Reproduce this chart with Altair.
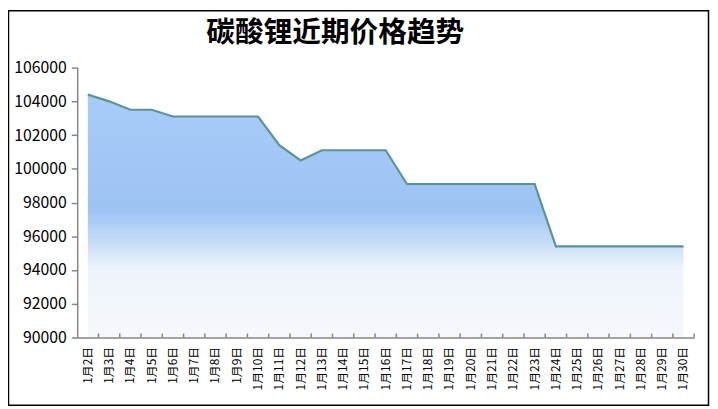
import altair as alt
import pandas as pd

dates = ["1月2日", "1月3日", "1月4日", "1月5日", "1月6日", "1月7日", "1月8日", "1月9日",
         "1月10日", "1月11日", "1月12日", "1月13日", "1月14日", "1月15日", "1月16日",
         "1月17日", "1月18日", "1月19日", "1月20日", "1月21日", "1月22日", "1月23日",
         "1月24日", "1月25日", "1月26日", "1月27日", "1月28日", "1月29日", "1月30日"]
prices = [104400, 104000, 103500, 103500, 103100, 103100, 103100, 103100, 103100,
          101400, 100500, 101100, 101100, 101100, 101100,
          99100, 99100, 99100, 99100, 99100, 99100, 99100,
          95400, 95400, 95400, 95400, 95400, 95400, 95400]
y_ticks = [90000, 92000, 94000, 96000, 98000, 100000, 102000, 104000, 106000]
y_min, y_max = 90000, 106000
title_text = "碳酸锂近期价格趋势"

df = pd.DataFrame({"date": dates, "price": prices})

FONT = "Noto Sans CJK SC"
AXIS_GRAY = "#868686"

x_enc = alt.X(
    "date:N", sort=dates, bandPosition=0.5,
    scale=alt.Scale(type="band", paddingInner=0, paddingOuter=0),
    axis=alt.Axis(title=None, labelAngle=-90, labelFontSize=12, labelFont=FONT,
                  labelColor="black", tickSize=0, labelPadding=9,
                  domainColor=AXIS_GRAY, domainWidth=1.5, labelOverlap=False, zindex=1),
)
y_enc = alt.Y(
    "price:Q",
    scale=alt.Scale(domain=[y_min, y_max], zero=False, nice=False),
    axis=alt.Axis(title=None, values=y_ticks, format="d", labelFontSize=16, labelFont=FONT,
                  labelColor="black", tickSize=6, tickColor=AXIS_GRAY, tickWidth=1.5,
                  domainColor=AXIS_GRAY, domainWidth=1.5, labelPadding=5, grid=False, zindex=1),
)

base = alt.Chart(df)

area = base.mark_area(
    fill=alt.Gradient(
        gradient="linear", x1=0, x2=0, y1=0, y2=1,
        stops=[
            alt.GradientStop(color="#a8ccf8", offset=0),
            alt.GradientStop(color="#9dc3f4", offset=0.48),
            alt.GradientStop(color="#eef4fb", offset=0.72),
            alt.GradientStop(color="#f5f8fc", offset=1),
        ],
    )
).encode(x=x_enc, y=y_enc, y2=alt.datum(y_min))

line = base.mark_line(color="#5a9494", strokeWidth=2.2).encode(x=x_enc, y=y_enc)

ticks = base.mark_rule(color=AXIS_GRAY, strokeWidth=1.5).encode(
    x=alt.X("date:N", sort=dates, bandPosition=1),
    y=alt.value(269),
    y2=alt.value(273),
)

frame = alt.Chart(pd.DataFrame({"k": [0]})).mark_rect(
    fill="transparent", stroke="black", strokeWidth=1.5
).encode(
    x=alt.value(-69.5), x2=alt.value(638.5),
    y=alt.value(-57.5), y2=alt.value(341.5),
)

chart = alt.layer(area, line, ticks, frame).properties(
    width=624, height=273,
    autosize=alt.AutoSizeParams(type="none"),
    padding={"left": 70, "top": 58, "right": 16, "bottom": 70},
    background="white",
    title=alt.TitleParams(
        text=title_text, font=FONT, fontSize=29, fontWeight="bold", color="black",
        anchor="middle", frame="group", dx=-51, offset=-67, baseline="bottom",
    ),
).configure_view(stroke="transparent")

chart.save("out.html", embed_options={"renderer": "svg", "actions": False})
